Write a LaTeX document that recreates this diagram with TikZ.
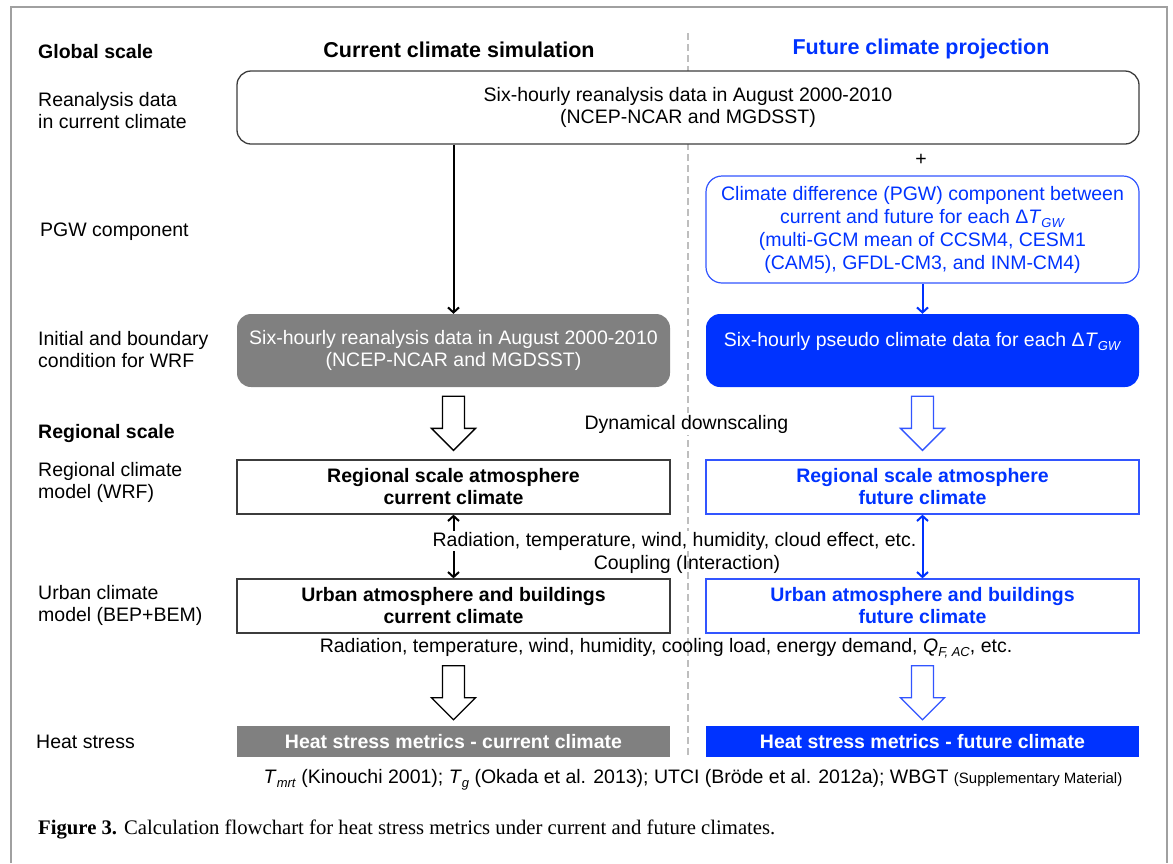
\documentclass[tikz,border=0pt]{standalone}
\usepackage{fontspec}
\setmainfont{Liberation Sans}
\newfontfamily\capfont{Liberation Serif}
\usetikzlibrary{arrows.meta,calc}
\definecolor{fblue}{RGB}{0,51,255}
\definecolor{lblue}{RGB}{50,85,255}
\definecolor{fgray}{RGB}{128,128,128}
\definecolor{framegray}{RGB}{160,160,160}
\definecolor{dashgray}{RGB}{190,190,190}
\definecolor{bdark}{RGB}{60,60,60}
\newcommand\fsz{\fontsize{19.5}{22}\selectfont}
\newcommand\sub[1]{\raisebox{-0.22em}{\fontsize{13}{13}\selectfont #1}}
\newcommand\hollowarrow[3]{%
  \draw[#3,line width=1.3pt,fill=white,line join=miter] let \p1=#1,\p2=#2 in
   (\x1-11pt,\y1) -- (\x1+11pt,\y1) -- (\x1+11pt,\y2+22pt) -- (\x1+22pt,\y2+22pt)
   -- (\x1,\y2) -- (\x1-22pt,\y2+22pt) -- (\x1-11pt,\y2+22pt) -- cycle;}
\tikzset{
  txt/.style={font=\fsz, inner sep=0pt, align=center},
  lbl/.style={font=\fsz, inner sep=0pt, anchor=west, align=left},
  hdr/.style={font=\fontsize{21.5}{24}\selectfont\bfseries, inner sep=0pt},
  boxw/.style={draw=bdark, line width=1.3pt, fill=white, minimum width=433pt,
    minimum height=54pt, font=\fsz\bfseries, align=center, inner sep=0pt},
  boxb/.style={boxw, draw=lblue, text=fblue},
  heatbox/.style={fill=fgray, minimum width=433pt, minimum height=31pt,
    font=\fsz\bfseries, text=white, inner sep=0pt},
  thinarr/.style={line width=2pt, -{Straight Barb[length=5pt,width=11pt]}},
  dblarr/.style={line width=2pt, {Straight Barb[length=5pt,width=11pt]}-{Straight Barb[length=5pt,width=11pt]}}
}
\begin{document}
\begin{tikzpicture}[x=1pt,y=-1pt]
\useasboundingbox (0,0) rectangle (1173,863);
% frame
\draw[framegray, line width=2pt] (11,863) -- (11,7) -- (1167,7) -- (1167,863);
% dashed divider
\draw[dashgray, line width=1.5pt, dash pattern=on 7pt off 4pt] (688,33) -- (688,757);

% column titles
\node[hdr] (tcur) at (459,50) {Current climate simulation};
\node[hdr, text=fblue] (tfut) at (921,49) {Future climate projection};

% left labels
\node[lbl, font=\fontsize{19.5}{22}\selectfont\bfseries] (lglob) at (38,52) {Global scale};
\node[lbl] (lrea) at (38,111) {Reanalysis data\\in current climate};
\node[lbl] (lpgw) at (40,232) {PGW component};
\node[lbl] (lini) at (38,350) {Initial and boundary\\condition for WRF};
\node[lbl, font=\fontsize{19.5}{22}\selectfont\bfseries] (lreg) at (38,433) {Regional scale};
\node[lbl] (lrcm) at (38,482) {Regional climate\\model (WRF)};
\node[lbl] (lucm) at (38,605) {Urban climate\\model (BEP+BEM)};
\node[lbl] (lhs) at (36,742) {Heat stress};

% top box
\node[draw=bdark, line width=1.3pt, fill=white, rounded corners=14pt,
  minimum width=902pt, minimum height=73pt, txt] (top) at (688,107.5)
  {Six-hourly reanalysis data in August 2000-2010\\(NCEP-NCAR and MGDSST)};

\node[txt] (plus) at (921,160) {+};

% PGW box
\node[draw=lblue, line width=1.2pt, fill=white, rounded corners=16pt,
  minimum width=433pt, minimum height=107pt, txt, text=fblue,
  font=\fontsize{19.5}{23}\selectfont] (pgw) at (922.5,229.5)
  {Climate difference (PGW) component between\\
   current and future for each Δ\textit{T}\sub{\textit{GW}}\\
   (multi-GCM mean of CCSM4, CESM1\\
   (CAM5), GFDL-CM3, and INM-CM4)};

% initial/boundary boxes
\node[fill=fgray, rounded corners=14pt, minimum width=433pt, minimum height=73pt,
  txt, text=white] (gray) at (453.5,350.5)
  {Six-hourly reanalysis data in August 2000-2010\\(NCEP-NCAR and MGDSST)};
\node[fill=fblue, rounded corners=14pt, minimum width=433pt, minimum height=73pt,
  txt, text=white] (bfill) at (922.5,350.5)
  {Six-hourly pseudo climate data for each Δ\textit{T}\sub{\textit{GW}}\\\mbox{}};

\draw[thinarr] (gray.north |- top.south) -- (gray.north);
\draw[thinarr, fblue] (pgw.south) -- (bfill.north);

% regional boxes
\node[boxw] (reg) at (453.5,487) {Regional scale atmosphere\\current climate};
\node[boxb] (regF) at (922.5,487) {Regional scale atmosphere\\future climate};

% urban boxes
\node[boxw] (urb) at (453.5,606) {Urban atmosphere and buildings\\current climate};
\node[boxb] (urbF) at (922.5,606) {Urban atmosphere and buildings\\future climate};

% heat stress boxes
\node[heatbox] (heat) at (453.5,741.5) {Heat stress metrics - current climate};
\node[heatbox, fill=fblue] (heatF) at (922.5,741.5) {Heat stress metrics - future climate};

% hollow arrows
\hollowarrow{($(gray.south)+(0,9)$)}{($(reg.north)+(0,-9)$)}{black}
\hollowarrow{($(bfill.south)+(0,9)$)}{($(regF.north)+(0,-9)$)}{lblue}
\hollowarrow{($(urb.south)+(0,32)$)}{($(heat.north)+(0,-6)$)}{black}
\hollowarrow{($(urbF.south)+(0,32)$)}{($(heatF.north)+(0,-6)$)}{lblue}

\node[txt, fill=white, inner ysep=2pt] (dyn) at (686.5,424) {Dynamical downscaling};

% coupling
\draw[dblarr] (reg.south) -- (urb.north);
\node[txt, fill=white, inner ysep=1pt] (rad1) at (674.5,541)
  {Radiation, temperature, wind, humidity, cloud effect, etc.};
\draw[dblarr, fblue] (regF.south) -- (urbF.north);
\node[txt] (coup) at (687,564) {Coupling (Interaction)};

\node[txt] (rad2) at (666,648)
  {Radiation, temperature, wind, humidity, cooling load, energy demand, \textit{Q}\sub{\textit{F, AC}}, etc.};

\node[txt] (metrics) at (693,780)
  {\textit{T}\sub{\textit{mrt}} (Kinouchi 2001); \textit{T}\sub{\textit{g}} (Okada et al. 2013); UTCI (Bröde et al. 2012a); WBGT {\fontsize{15}{15}\selectfont(Supplementary Material)}};

% caption
\node[anchor=west, inner sep=0pt, font=\capfont\fontsize{20.7}{24}\selectfont] (cap) at (38,829)
  {\textbf{Figure 3.} Calculation flowchart for heat stress metrics under current and future climates.};
\end{tikzpicture}
\end{document}
